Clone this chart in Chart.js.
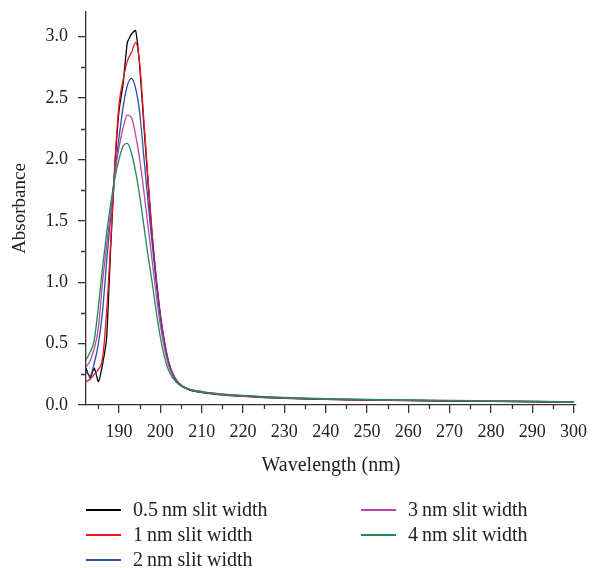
<!DOCTYPE html>
<html>
<head>
<meta charset="utf-8">
<script src="https://cdn.jsdelivr.net/npm/chart.js@4.4.0/dist/chart.umd.min.js"></script>
<style>
  body { margin: 0; background: #fff; }
  #wrap { position: relative; width: 594px; height: 568px; }
  #chart-box { position: absolute; left: 0; top: 0; }
  #legend { position: absolute; left: 0; top: 0; width: 594px; height: 568px; pointer-events: none;
            font-family: "Liberation Serif", "Times New Roman", serif; font-size: 20px; color: #222; }
  .leg-item { position: absolute; height: 24px; line-height: 24px; white-space: nowrap; }
  .leg-line { position: absolute; top: 12px; height: 1.5px; width: 35px; }
  .leg-text { position: absolute; left: 47px; top: 0; }
</style>
</head>
<body>
<div id="wrap">
  <canvas id="chart-box" width="594" height="490"></canvas>
  <div id="legend"></div>
</div>
<script>
// wavelength (nm)
const wavelengths = [182, 183, 184, 185, 186, 187, 188, 189, 190, 191, 192, 193, 194, 195, 196, 197, 198, 199, 200,
  201, 202, 203, 204, 205, 206, 207, 208, 209, 210, 211, 212, 214, 216, 218, 220, 225, 230, 240, 250, 260, 270, 280, 290, 300];

const slit05 = [0.30, 0.22, 0.30, 0.19, 0.33, 0.55, 1.30, 1.95, 2.40, 2.62, 2.95, 3.02, 3.05, 2.76, 2.28, 1.82, 1.38, 1.02, 0.72,
  0.50, 0.34, 0.245, 0.19, 0.158, 0.138, 0.124, 0.114, 0.107, 0.101, 0.096, 0.092, 0.085, 0.079, 0.074, 0.070, 0.061, 0.054, 0.045, 0.039, 0.035, 0.032, 0.029, 0.026, 0.022];
const slit1 = [0.19, 0.21, 0.25, 0.29, 0.38, 0.76, 1.34, 1.98, 2.45, 2.65, 2.80, 2.87, 2.95, 2.78, 2.32, 1.85, 1.40, 1.04, 0.74,
  0.52, 0.355, 0.258, 0.198, 0.163, 0.142, 0.127, 0.117, 0.109, 0.103, 0.098, 0.094, 0.087, 0.081, 0.076, 0.072, 0.063, 0.056, 0.047, 0.041, 0.037, 0.033, 0.030, 0.027, 0.023];
const slit2 = [0.27, 0.24, 0.34, 0.50, 0.76, 1.17, 1.55, 1.90, 2.18, 2.43, 2.60, 2.66, 2.58, 2.38, 2.02, 1.66, 1.32, 1.00, 0.72,
  0.50, 0.345, 0.252, 0.194, 0.161, 0.142, 0.128, 0.118, 0.111, 0.105, 0.100, 0.096, 0.089, 0.083, 0.078, 0.074, 0.065, 0.057, 0.048, 0.042, 0.038, 0.034, 0.031, 0.028, 0.024];
const slit3 = [0.31, 0.36, 0.46, 0.63, 1.00, 1.30, 1.58, 1.88, 2.10, 2.26, 2.36, 2.34, 2.20, 2.00, 1.74, 1.46, 1.18, 0.90, 0.65,
  0.46, 0.32, 0.238, 0.185, 0.156, 0.139, 0.127, 0.118, 0.111, 0.105, 0.100, 0.096, 0.089, 0.084, 0.079, 0.075, 0.066, 0.058, 0.049, 0.043, 0.039, 0.035, 0.032, 0.029, 0.025];
const slit4 = [0.37, 0.43, 0.53, 0.80, 1.12, 1.40, 1.64, 1.85, 2.00, 2.11, 2.13, 2.05, 1.90, 1.70, 1.46, 1.22, 1.00, 0.76, 0.55,
  0.39, 0.28, 0.22, 0.18, 0.155, 0.14, 0.13, 0.122, 0.116, 0.110, 0.105, 0.100, 0.093, 0.087, 0.082, 0.078, 0.069, 0.061, 0.051, 0.045, 0.041, 0.037, 0.034, 0.031, 0.027];

const seriesNames = ['0.5\u2009nm slit width', '1\u2009nm slit width', '2\u2009nm slit width', '3\u2009nm slit width', '4\u2009nm slit width'];
const seriesValues = [slit05, slit1, slit2, slit3, slit4];
const seriesColors = ['#000000', '#f0141e', '#2b4ea6', '#bf42ad', '#1d8c4c'];

const xTickMin = 182, xTickMax = 300.6;
const yTickMin = 0, yTickMax = 3.2;

const FONT = '"Liberation Serif", "Times New Roman", serif';
const INK = '#222';

// minor ticks between the labelled ones
const minorTicks = {
  id: 'minorTicks',
  afterDraw(chart) {
    const { ctx, scales: { x, y }, chartArea } = chart;
    ctx.save();
    ctx.strokeStyle = '#333';
    ctx.lineWidth = 1.3;
    ctx.beginPath();
    for (let v = 185; v < xTickMax; v += 10) {
      const px = Math.round(x.getPixelForValue(v)) + 0.5;
      ctx.moveTo(px, chartArea.bottom);
      ctx.lineTo(px, chartArea.bottom + 4);
    }
    for (let v = 0.25; v < yTickMax; v += 0.5) {
      const py = Math.round(y.getPixelForValue(v)) + 0.5;
      ctx.moveTo(chartArea.left, py);
      ctx.lineTo(chartArea.left - 5, py);
    }
    ctx.stroke();
    ctx.restore();
  }
};

const datasets = seriesValues.map((vals, i) => ({
  label: seriesNames[i],
  data: wavelengths.map((w, k) => ({ x: w, y: vals[k] })),
  borderColor: seriesColors[i],
  borderWidth: 1.3,
  pointRadius: 0,
  fill: false,
  cubicInterpolationMode: i === 0 ? 'default' : 'monotone',
  tension: i === 0 ? 0.15 : 0.4,
  order: 4 - i
}));

new Chart(document.getElementById('chart-box'), {
  type: 'line',
  data: { datasets },
  options: {
    responsive: false,
    animation: false,
    devicePixelRatio: 1,
    layout: { padding: { top: 12, right: 18, left: 0, bottom: 0 } },
    plugins: { legend: { display: false }, tooltip: { enabled: false } },
    scales: {
      x: {
        type: 'linear',
        min: xTickMin,
        max: xTickMax,
        afterFit(s) { s.height = 85; s.paddingLeft = 0; s.paddingRight = 0; },
        border: { display: true, color: '#333', width: 1.3 },
        grid: { display: true, drawOnChartArea: false, drawTicks: true, tickLength: 8, color: '#333', lineWidth: 1.3 },
        ticks: { stepSize: 10, includeBounds: false, color: INK, font: { family: FONT, size: 18 }, padding: 8, maxRotation: 0 },
        title: { display: true, text: 'Wavelength (nm)', color: INK, font: { family: FONT, size: 20 }, padding: { top: 0, bottom: 12 } }
      },
      y: {
        min: yTickMin,
        max: yTickMax,
        afterFit(s) { s.width = 86; s.paddingTop = 0; s.paddingBottom = 0; },
        border: { display: true, color: '#333', width: 1.3 },
        grid: { display: true, drawOnChartArea: false, drawTicks: true, tickLength: 8, color: '#333', lineWidth: 1.3 },
        ticks: { stepSize: 0.5, includeBounds: false, color: INK, font: { family: FONT, size: 18 }, padding: 10,
                 callback: v => v.toFixed(1) },
        title: { display: true, text: 'Absorbance', color: INK, font: { family: FONT, size: 19 }, padding: { top: 9, bottom: 0 } }
      }
    }
  },
  plugins: [minorTicks]
});

// legend in two columns, as in the figure
const legendSlots = [[86, 497], [86, 522], [86, 547], [361, 497], [361, 522]];
const legendEl = document.getElementById('legend');
seriesNames.forEach((name, i) => {
  const item = document.createElement('div');
  item.className = 'leg-item';
  item.style.left = legendSlots[i][0] + 'px';
  item.style.top = legendSlots[i][1] + 'px';
  const line = document.createElement('div');
  line.className = 'leg-line';
  line.style.background = seriesColors[i];
  const text = document.createElement('span');
  text.className = 'leg-text';
  text.textContent = name;
  item.appendChild(line);
  item.appendChild(text);
  legendEl.appendChild(item);
});
</script>
</body>
</html>
